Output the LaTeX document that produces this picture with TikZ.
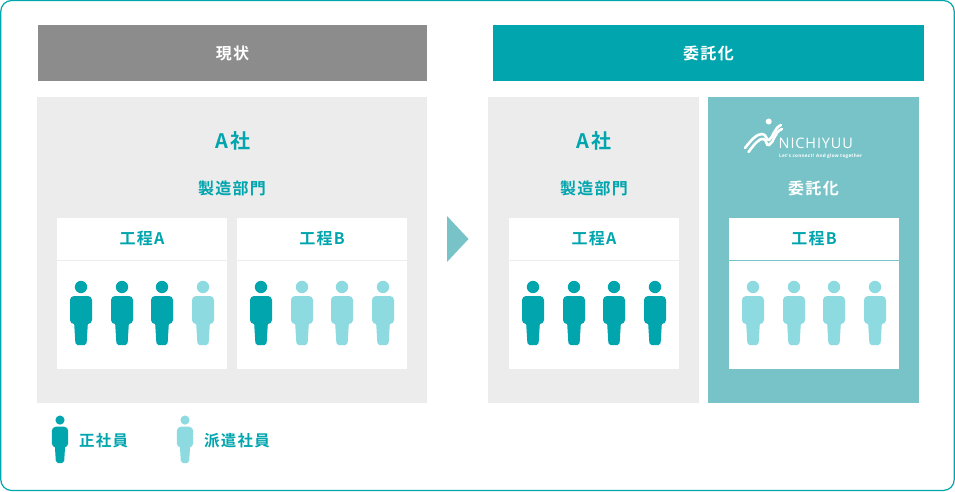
\documentclass[tikz,border=0pt]{standalone}
\usepackage{fontspec}
\usepackage{xcolor}
\setmainfont[LetterSpace=8,BoldFont={Noto Sans CJK JP Bold}]{Noto Sans CJK JP}
\newfontfamily\logofont[LetterSpace=6]{Open Sans}
\definecolor{teal}{HTML}{00A5AE}
\definecolor{paleteal}{HTML}{8DDBE0}
\definecolor{panelteal}{HTML}{78C3C7}
\definecolor{panelgray}{HTML}{ECECEC}
\definecolor{headgray}{HTML}{8C8C8C}
\tikzset{
    header/.style={anchor=center,minimum height=56,inner sep=0,text=white,font=\fontsize{16}{16}\selectfont\bfseries},
    panel/.style={minimum height=306,inner sep=0},
    whitebox/.style={fill=white,minimum width=170,minimum height=151,inner sep=0},
    title/.style={text=teal,inner sep=0,font=\fontsize{16}{16}\selectfont\bfseries},
    person/.pic={
        \fill (0,-58) circle (6.2);
        \fill[rounded corners=4] (-11,-49) rectangle (11,-21);
        \fill[rounded corners=2] (-7,-24) -- (7,-24) -- (5.5,0) -- (-5.5,0) -- cycle;
    }
}
\begin{document}
\begin{tikzpicture}[x=1pt,y=-1pt,every node/.append style={transform shape=false}]
    \useasboundingbox (0,0) rectangle (955,492);
    \node[draw=teal,line width=1.2,rounded corners=11,minimum width=953.5,minimum height=490,inner sep=0] (frame) at (477.5,245.5) {};
    % headers
    \node[header,fill=headgray,minimum width=389] (nowhead) at (232.5,53) {現状};
    \node[header,fill=teal,minimum width=431] (outhead) at (708.5,53) {委託化};
    % panels
    \node[panel,fill=panelgray,minimum width=390] (nowpanel) at (232,250) {};
    \node[panel,fill=panelgray,minimum width=211] (apanel) at (593.5,250) {};
    \node[panel,fill=panelteal,minimum width=211] (nichipanel) at (813.5,250) {};
    \fill[panelteal] (447,216) -- (468.5,239) -- (447,262) -- cycle;
    % work boxes
    \foreach \name/\x/\label in {boxa/142/工程A,boxb/322/工程B,boxc/594/工程A,boxd/814/工程B}{
        \node[whitebox] (\name) at (\x,293.5) {};
        \node[title] (\name label) at (\x,238) {\label};
    }
    \foreach \name in {boxa,boxb,boxc}
        \draw[panelgray,line width=0.8] (\name.west |- 0,260.5) -- (\name.east |- 0,260.5);
    \draw[panelteal,line width=0.8] (boxd.west |- 0,260.5) -- (boxd.east |- 0,260.5);
    % titles
    \node[title,font=\fontsize{20}{20}\selectfont\bfseries] (nowcompany) at (233,141) {A社};
    \node[title] (nowdept) at (232,188) {製造部門};
    \node[title,font=\fontsize{20}{20}\selectfont\bfseries] (acompany) at (594,141) {A社};
    \node[title] (adept) at (594,188) {製造部門};
    \node[title,text=white] (nichititle) at (813.5,188) {委託化};
    % people
    \foreach \x in {81,122,162,261,533,574,614,655}
        \pic[teal] at (\x,345) {person};
    \foreach \x in {203,302,342,383,753,794,834,875}
        \pic[paleteal] at (\x,345) {person};
    % legend
    \pic[teal,scale=0.74] at (60,463) {person};
    \pic[paleteal,scale=0.74] at (185,463) {person};
    \node[title,anchor=west,font=\fontsize{15.5}{16}\selectfont\bfseries] (fulltime) at (79,441) {正社員};
    \node[title,anchor=west,font=\fontsize{15.5}{16}\selectfont\bfseries] (temp) at (204,441) {派遣社員};
    % logo
    \fill[white] (768.7,121.5) circle (3);
    \draw[white,line width=2.6,line cap=round] (745,148) .. controls (752,139) and (757,134) .. (762,134) .. controls (767,134) and (766,141) .. (769,140) .. controls (773,138) and (774,128) .. (781,125);
    \draw[white,line width=2.6,line cap=round] (748.5,152) .. controls (755,143) and (760,138) .. (763.5,139) .. controls (767,140) and (766,146) .. (769,145) .. controls (774,143) and (774,132) .. (782,129);
    \node[white,anchor=west,inner sep=0,font=\logofont\fontsize{14.5}{15}\selectfont] (logotext) at (778.5,143.5) {NICHIYUU};
    \node[white,anchor=west,inner sep=0,font=\logofont\fontsize{4.6}{5}\selectfont\bfseries] (logotag) at (779,156) {Let's connect! And glow together};
\end{tikzpicture}
\end{document}
